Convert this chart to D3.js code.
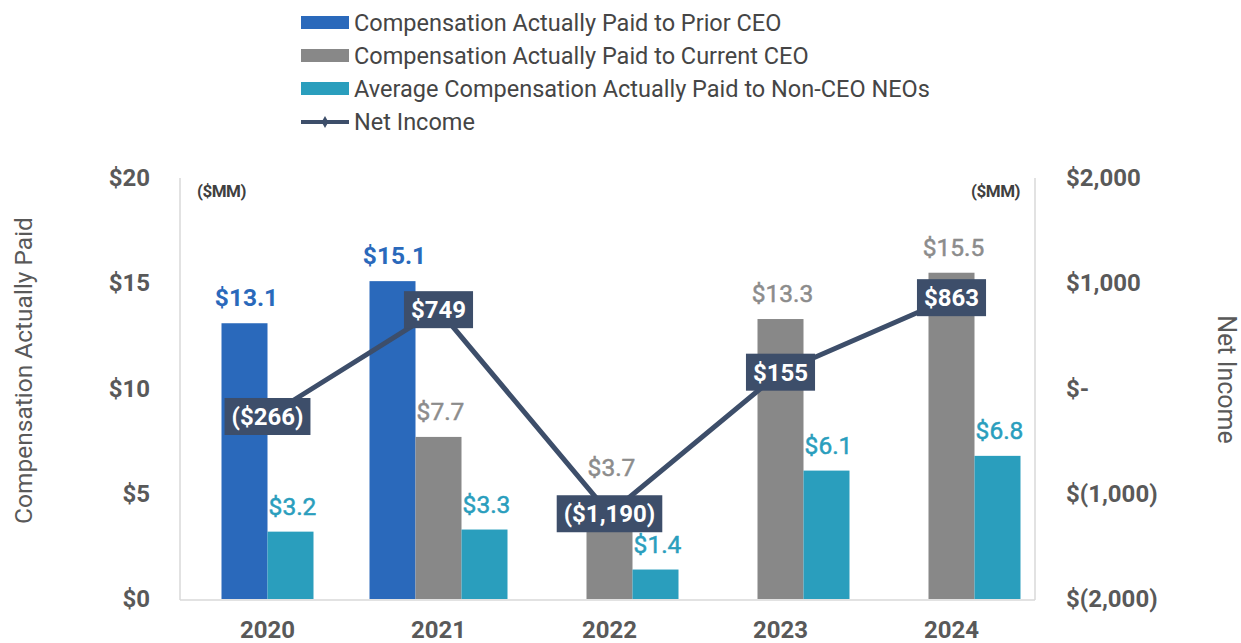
<!DOCTYPE html>
<html><head><meta charset="utf-8">
<script src="https://cdn.jsdelivr.net/npm/d3@7"></script>
<style>
html,body{margin:0;padding:0;background:#fff;}
svg{display:block;font-family:Roboto,"Liberation Sans",Arial,sans-serif;}
</style></head>
<body><svg id="c" width="1241" height="643"></svg>
<script>
const years = ["2020","2021","2022","2023","2024"];
const priorCEO = [13.1, 15.1, null, null, null];
const currentCEO = [null, 7.7, 3.7, 13.3, 15.5];
const nonCEO = [3.2, 3.3, 1.4, 6.1, 6.8];
const netIncome = [-266, 749, -1190, 155, 863];
const leftTicks = [0, 5, 10, 15, 20];
const rightTicks = [-2000, -1000, 0, 1000, 2000];
const seriesNames = ["Compensation Actually Paid to Prior CEO","Compensation Actually Paid to Current CEO","Average Compensation Actually Paid to Non-CEO NEOs"];
const lineName = "Net Income";

const colors = ["#2a69bb", "#888888", "#2a9ebd"];
const labelColors = ["#2a69bb", "#8c8c8c", "#2a9ebd"];
const navy = "#3d4e6a";
const textGray = "#595959";

const svg = d3.select("#c");
const L = 180, R = 1035, T = 178, B = 599;
const x = d3.scaleBand().domain(years).range([L + 2, R + 2]).padding(0);
const yL = d3.scaleLinear().domain([0, 20]).range([B, T]);
const yR = d3.scaleLinear().domain([-2000, 2000]).range([B, T]);
const barW = 46;

// axes frame
svg.append("line").attr("x1", L).attr("x2", L).attr("y1", T).attr("y2", B + 1).attr("stroke", "#d9d9d9").attr("stroke-width", 1.5);
svg.append("line").attr("x1", R).attr("x2", R).attr("y1", T).attr("y2", B + 1).attr("stroke", "#d9d9d9").attr("stroke-width", 1.5);
svg.append("line").attr("x1", L).attr("x2", R).attr("y1", B + 1).attr("y2", B + 1).attr("stroke", "#d9d9d9").attr("stroke-width", 1.5);

// left axis
const gl = svg.append("g").attr("transform", `translate(${L},0)`)
  .call(d3.axisLeft(yL).tickValues(leftTicks).tickSize(0).tickPadding(30).tickFormat(d => "$" + d));
gl.select(".domain").remove();
gl.selectAll("text").attr("font-size", 24).attr("font-weight", "bold").attr("fill", textGray).attr("font-family", "Roboto");

// right axis
const fmtR = d => d === 0 ? "$-" : (d < 0 ? "$(" + d3.format(",")(-d) + ")" : "$" + d3.format(",")(d));
const gr = svg.append("g").attr("transform", `translate(${R},0)`)
  .call(d3.axisRight(yR).tickValues(rightTicks).tickSize(0).tickPadding(31).tickFormat(fmtR));
gr.select(".domain").remove();
gr.selectAll("text").attr("font-size", 24).attr("font-weight", "bold").attr("fill", textGray).attr("font-family", "Roboto");

// x axis
const gx = svg.append("g").attr("transform", `translate(0,${B})`)
  .call(d3.axisBottom(x).tickSize(0).tickPadding(22));
gx.select(".domain").remove();
gx.selectAll("text").attr("font-size", 24).attr("font-weight", "bold").attr("fill", textGray).attr("font-family", "Roboto");

// ($MM)
svg.append("text").attr("x", L + 17).attr("y", 197).text("($MM)").attr("font-size", 17).attr("font-weight", "bold").attr("fill", "#404040").attr("letter-spacing", -0.5);
svg.append("text").attr("x", R - 15).attr("y", 197).attr("text-anchor", "end").text("($MM)").attr("font-size", 17).attr("font-weight", "bold").attr("fill", "#404040").attr("letter-spacing", -0.5);

// axis titles
svg.append("text").attr("transform", `translate(32,${(T + B) / 2 - 18}) rotate(-90)`).attr("text-anchor", "middle")
  .text("Compensation Actually Paid").attr("font-size", 24.5).attr("fill", textGray);
svg.append("text").attr("transform", `translate(1218,${(T + B) / 2 - 9}) rotate(90)`).attr("text-anchor", "middle")
  .text("Net Income").attr("font-size", 25).attr("fill", textGray);

// bars
const seriesVals = [priorCEO, currentCEO, nonCEO];
const bars = [];
years.forEach((yr, i) => {
  // slots: current CEO slot exists only once a current CEO exists
  const slots = currentCEO[i] == null ? [0, 2] : [0, 1, 2];
  const x1 = d3.scaleBand().domain(slots).range([0, slots.length * barW]);
  const start = x(yr) + x.bandwidth() / 2 - slots.length * barW / 2;
  slots.forEach(s => {
    const v = seriesVals[s][i];
    if (v == null) return;
    bars.push({ yr, i, s, v, x0: start + x1(s) });
  });
});
svg.append("g").selectAll("rect").data(bars).join("rect")
  .attr("x", d => d.x0).attr("width", barW)
  .attr("y", d => yL(d.v)).attr("height", d => yL(0) - yL(d.v))
  .attr("fill", d => colors[d.s]);

// net income line
const pts = years.map((yr, i) => [x(yr) + x.bandwidth() / 2, yR(netIncome[i])]);
svg.append("path").attr("d", d3.line()(pts)).attr("fill", "none").attr("stroke", navy).attr("stroke-width", 5).attr("stroke-linejoin", "round");

// net income label boxes
const fmtNI = v => v < 0 ? "($" + d3.format(",")(-v) + ")" : "$" + d3.format(",")(v);
const boxH = 37;
const boxes = [];
const gb = svg.append("g");
pts.forEach((p, i) => {
  const t = gb.append("text").attr("x", p[0]).attr("y", p[1] + 8.5).attr("text-anchor", "middle")
    .attr("font-size", 24).attr("font-weight", "bold").attr("fill", "#fff").text(fmtNI(netIncome[i]));
  const w = t.node().getComputedTextLength() + 14;
  const b = { x0: p[0] - w / 2, x1: p[0] + w / 2, y0: p[1] - boxH / 2, y1: p[1] + boxH / 2 };
  boxes.push(b);
  gb.insert("rect", "text").attr("x", b.x0).attr("y", b.y0).attr("width", w).attr("height", boxH).attr("fill", navy);
});

// bar value labels (moved above a net-income box if they would collide)
const gv = svg.append("g");
bars.forEach(d => {
  const cx = d.x0 + barW / 2 + 2;
  let base = yL(d.v) - 17;
  const t = gv.append("text").attr("x", cx).attr("text-anchor", "middle").attr("font-size", 24.5)
    .attr("font-weight", d.s === 0 ? "bold" : "normal").attr("fill", labelColors[d.s]).text("$" + d.v.toFixed(1));
  if (d.s !== 0) t.attr("stroke", labelColors[d.s]).attr("stroke-width", 0.5);
  const w = t.node().getComputedTextLength();
  boxes.forEach(b => {
    if (cx + w / 2 > b.x0 && cx - w / 2 < b.x1 && base > b.y0 - 4 && base - 18 < b.y1) base = b.y0 - 19;
  });
  t.attr("y", base);
});

// legend
const lg = svg.append("g");
const rowY = [31, 64, 97, 130];
seriesNames.forEach((n, k) => {
  lg.append("rect").attr("x", 301).attr("y", rowY[k] - 15).attr("width", 48).attr("height", 13).attr("fill", colors[k]);
  lg.append("text").attr("x", 354).attr("y", rowY[k]).text(n).attr("font-size", 23.5).attr("fill", "#454545");
});
lg.append("line").attr("x1", 301).attr("x2", 349).attr("y1", rowY[3] - 8).attr("y2", rowY[3] - 8).attr("stroke", navy).attr("stroke-width", 4);
lg.append("path").attr("d", d3.symbol(d3.symbolDiamond, 40)()).attr("transform", `translate(325,${rowY[3] - 8})`).attr("fill", navy);
lg.append("text").attr("x", 354).attr("y", rowY[3]).text(lineName).attr("font-size", 23.5).attr("fill", "#454545");
</script></body></html>
